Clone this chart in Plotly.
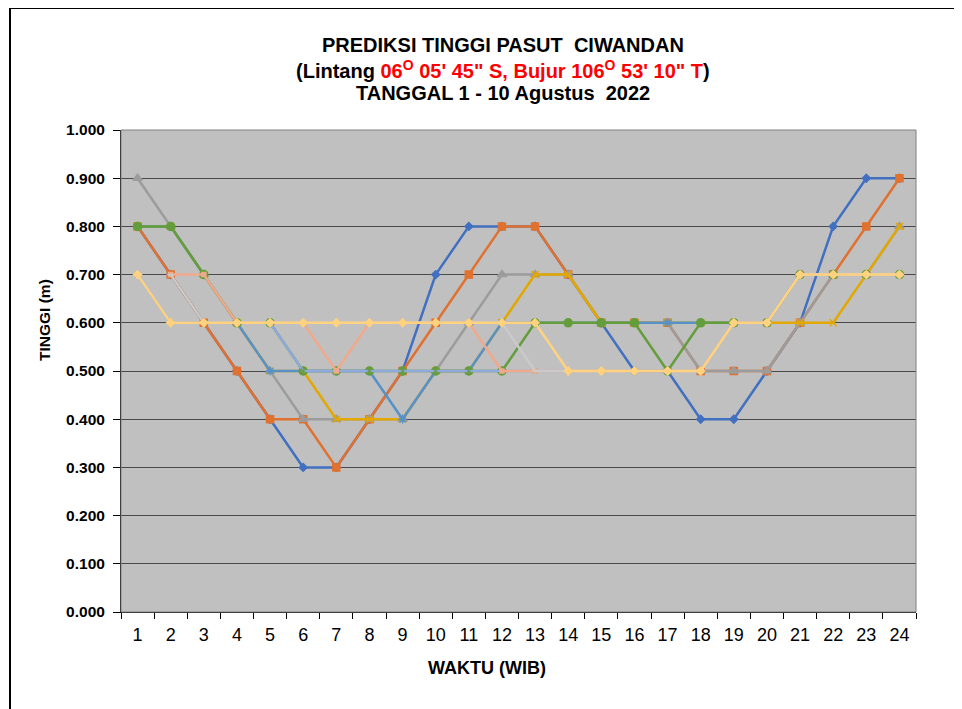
import plotly.graph_objects as go

# jam (WIB)
hours = [str(h) for h in range(1, 25)]

# tinggi pasut per tanggal (m)
day1 = [0.8, 0.7, 0.6, 0.5, 0.4, 0.3, 0.3, 0.4, 0.5, 0.7, 0.8, 0.8,
        0.8, 0.7, 0.6, 0.5, 0.5, 0.4, 0.4, 0.5, 0.6, 0.8, 0.9, 0.9]
day2 = [0.8, 0.7, 0.6, 0.5, 0.4, 0.4, 0.3, 0.4, 0.5, 0.6, 0.7, 0.8,
        0.8, 0.7, 0.6, 0.6, 0.6, 0.5, 0.5, 0.5, 0.6, 0.7, 0.8, 0.9]
day3 = [0.9, 0.8, 0.7, 0.6, 0.5, 0.4, 0.4, 0.4, 0.4, 0.5, 0.6, 0.7,
        0.7, 0.7, 0.6, 0.6, 0.6, 0.5, 0.5, 0.5, 0.6, 0.7, 0.7, 0.8]
day4 = [0.8, 0.8, 0.7, 0.6, 0.5, 0.5, 0.4, 0.4, 0.4, 0.5, 0.5, 0.6,
        0.7, 0.7, 0.6, 0.6, 0.6, 0.6, 0.6, 0.6, 0.6, 0.6, 0.7, 0.8]
day5 = [0.8, 0.8, 0.7, 0.6, 0.5, 0.5, 0.5, 0.5, 0.4, 0.5, 0.5, 0.6,
        0.6, 0.6, 0.6, 0.6, 0.6, 0.6, 0.6, 0.6, 0.7, 0.7, 0.7, 0.7]
day6 = [0.8, 0.8, 0.7, 0.6, 0.6, 0.5, 0.5, 0.5, 0.5, 0.5, 0.5, 0.5,
        0.6, 0.6, 0.6, 0.6, 0.5, 0.6, 0.6, 0.6, 0.7, 0.7, 0.7, 0.7]
day7 = [0.7, 0.6, 0.6, 0.6, 0.6, 0.5, 0.5, 0.5, 0.5, 0.5, 0.5, 0.5,
        0.5, 0.5, 0.5, 0.5, 0.5, 0.5, 0.6, 0.6, 0.7, 0.7, 0.7, 0.7]
day8 = [None, 0.7, 0.7, 0.6, 0.6, 0.6, 0.5, 0.6, 0.6, 0.6, 0.6, 0.5,
        0.5, 0.5, 0.5, 0.5, 0.5, 0.5, 0.6, 0.6, 0.7, 0.7, 0.7, 0.7]
day9 = [None, 0.7, 0.6, 0.6, 0.6, 0.6, 0.6, 0.6, 0.6, 0.6, 0.6, 0.6,
        0.5, 0.5, 0.5, 0.5, 0.5, 0.5, 0.6, 0.6, 0.7, 0.7, 0.7, 0.7]
day10 = [0.7, 0.6, 0.6, 0.6, 0.6, 0.6, 0.6, 0.6, 0.6, 0.6, 0.6, 0.6,
         0.6, 0.5, 0.5, 0.5, 0.5, 0.5, 0.6, 0.6, 0.7, 0.7, 0.7, 0.7]

series = [day1, day2, day3, day4, day5, day6, day7, day8, day9, day10]
names = ['%d Agustus 2022' % (i + 1) for i in range(10)]

colors = ['#4270c0', '#e0712e', '#9c9c9c', '#e2a800', '#5691c8',
          '#649e3c', '#8fa9dc', '#f0a98a', '#cacaca', '#ffd27f']
symbols = ['diamond', 'square', 'triangle-up', 'x-thin-open', 'asterisk-open',
           'circle', 'x-thin-open', 'square', 'line-ew-open', 'diamond']
msizes = [6, 7, 8, 7, 7, 8, 5, 4, 5, 6]
mcolors = ['#4270c0', '#e0712e', '#9c9c9c', '#e2a800', '#5691c8',
           '#649e3c', '#6e9a50', '#f0a98a', '#cacaca', '#ffd27f']

fig = go.Figure()
for i in range(10):
    fig.add_trace(go.Scatter(x=hours, y=series[i], name=names[i],
                             mode='lines+markers',
                             line=dict(color=colors[i], width=2.5),
                             marker=dict(symbol=symbols[i], size=msizes[i],
                                         color=mcolors[i],
                                         line=dict(color=mcolors[i], width=1.5)),
                             connectgaps=False))

# the page adds an 8px body margin, so page pixels are shifted by OFF
OFF = 8
W, H = 962 - OFF, 709 - OFF
# plot area on the page: x 121..916, y 130..612
L, R, T, B = 121 - OFF, 916 - OFF, 130 - OFF, 612 - OFF


def px(xp):
    return (xp - OFF - L) / (R - L)


def py(yp):
    return (B - (yp - OFF)) / (B - T)


font = 'Liberation Sans, Arial, sans-serif'

fig.update_layout(
    width=W, height=H,
    margin=dict(l=L, r=W - R, t=T, b=H - B, pad=0),
    paper_bgcolor='white',
    plot_bgcolor='#c0c0c0',
    showlegend=False,
    font=dict(family=font, color='black'),
)

fig.update_xaxes(type='category', range=[-0.5, 23.5],
                 showgrid=False, showline=True, linecolor='black', linewidth=1,
                 ticks='outside', tickson='boundaries', ticklen=6,
                 tickcolor='black',
                 tickfont=dict(family=font, size=18, color='black'),
                 ticklabelstandoff=6, fixedrange=True)

fig.update_yaxes(range=[0, 1], dtick=0.1, tickformat='.3f',
                 showgrid=True, gridcolor='#4a4a4a', gridwidth=1,
                 showline=True, linecolor='black', linewidth=1,
                 ticks='outside', ticklen=7, tickcolor='black',
                 tickfont=dict(family=font, size=15.5, color='black', weight='bold'),
                 ticklabelstandoff=5, zeroline=False, fixedrange=True)

# plot area frame
fig.add_shape(type='rect', xref='paper', yref='paper', x0=0, x1=1, y0=0, y1=1,
              line=dict(color='#808080', width=1), layer='above')
# chart border
fig.add_shape(type='rect', xref='paper', yref='paper',
              x0=px(10), x1=px(1000), y0=py(760), y1=py(8),
              line=dict(color='black', width=2))

red = '#ff0000'
title_lines = [
    ('<b>PREDIKSI TINGGI PASUT  CIWANDAN</b>', 45),
    ('<b>(Lintang <span style="color:%s">06<sup>O</sup> 05\' 45" S, Bujur 106<sup>O</sup> 53\' 10" T</span>)</b>' % red, 69),
    ('<b>TANGGAL 1 - 10 Agustus  2022</b>', 93),
]
for txt, yp in title_lines:
    fig.add_annotation(text=txt, xref='paper', yref='paper', x=px(503), y=py(yp),
                       xanchor='center', yanchor='middle', showarrow=False,
                       font=dict(family=font, size=20, color='black'))

fig.add_annotation(text='<b>TINGGI (m)</b>', xref='paper', yref='paper',
                   x=px(44), y=py(320), textangle=-90, xanchor='center',
                   yanchor='middle', showarrow=False,
                   font=dict(family=font, size=15.5, color='black'))

fig.add_annotation(text='<b>WAKTU (WIB)</b>', xref='paper', yref='paper',
                   x=px(487), y=py(668), xanchor='center', yanchor='middle',
                   showarrow=False,
                   font=dict(family=font, size=18, color='black'))

fig.write_html("out.html")
